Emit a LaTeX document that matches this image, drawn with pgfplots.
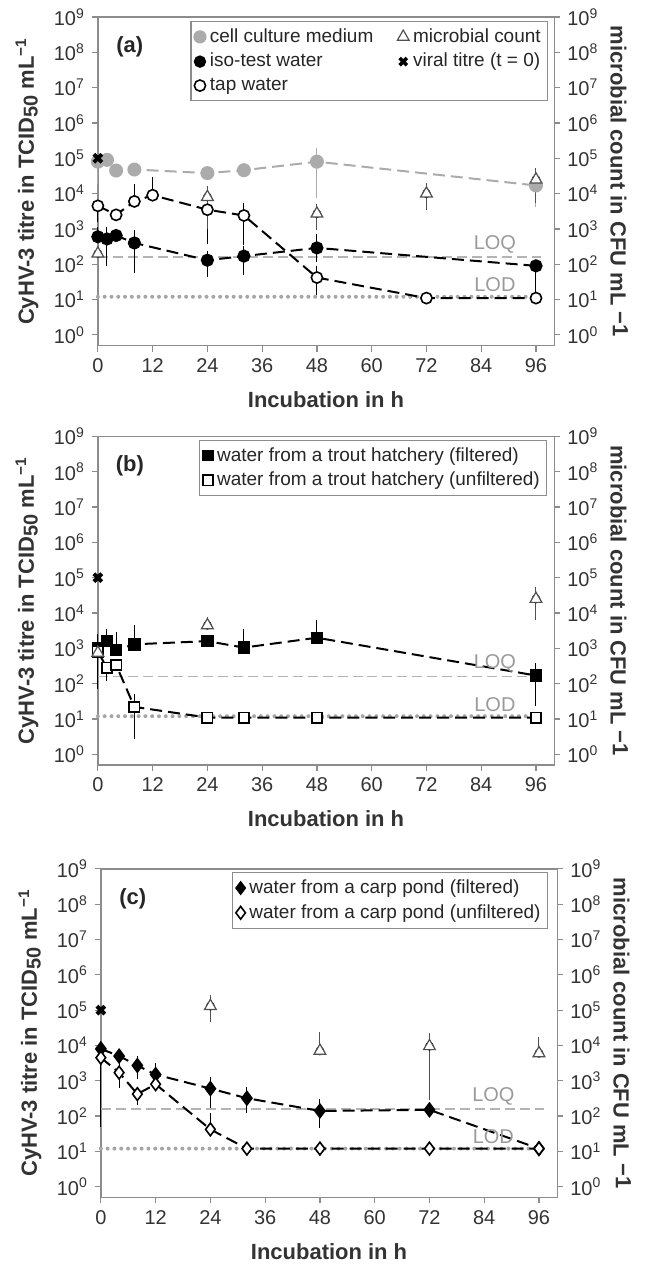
\documentclass[border=0pt]{standalone}
\usepackage{fontspec}
\setmainfont{Liberation Sans}
\usepackage{pgfplots}
\usepackage{pgfplotstable}
\pgfplotsset{compat=1.18}

\definecolor{axgray}{HTML}{8C8C8C}
\definecolor{ccm}{HTML}{ABABAB}
\definecolor{limgray}{HTML}{B4B4B4}
\definecolor{dotgray}{HTML}{A6A6A6}
\definecolor{txtgray}{HTML}{9A9A9A}
\definecolor{trigray}{HTML}{505050}

% t = hours, y = value, ep/em = error up/down
\pgfplotstableread{
t y ep em
0 80000 0 55000
2 90000 0 0
4 45000 0 0
8 48000 0 0
24 38000 0 0
32 46000 0 0
48 80000 70000 70500
96 17000 0 11500
}\ccmtab
\pgfplotstableread{
t y ep em
0 600 300 0
2 520 380 405
4 650 0 0
8 400 300 325
24 130 50 75
32 170 80 105
48 290 260 140
96 90 0 79
}\isotab
\pgfplotstableread{
t y ep em
0 4500 0 2500
4 2500 0 0
8 6000 8000 0
12 9000 14000 0
24 3500 0 3000
32 2400 1800 1950
48 42 28 25
72 11 0 0
96 11 0 0
}\taptab
\pgfplotstableread{
t y ep em
0 200 0 0
24 8000 5000 6700
48 2700 1300 1500
72 10000 5500 5500
96 25000 17000 18000
}\triA
\pgfplotstableread{
t y ep em
0 1000 1000 900
2 1600 1200 0
4 900 1400 0
8 1300 2200 0
24 1600 0 0
32 1050 1750 0
48 2000 3000 0
96 170 130 140
}\fsqtab
\pgfplotstableread{
t y ep em
0 800 0 710
2 280 0 130
4 340 0 0
8 22 18 18.5
24 11 0 0
32 11 0 0
48 11 0 0
96 11 0 0
}\osqtab
\pgfplotstableread{
t y ep em
0 750 0 0
24 4500 1500 0
96 25000 17000 17000
}\triB
\pgfplotstableread{
t y ep em
0 8000 2000 0
4 5000 0 1500
8 2700 1100 1200
12 1500 900 0
24 600 400 380
32 320 180 160
48 140 90 80
72 150 0 0
96 12 0 0
}\fditab
\pgfplotstableread{
t y ep em
0 4500 0 4435
4 1700 800 900
8 420 0 160
12 800 0 0
24 42 53 0
32 12 0 0
48 12 0 0
72 12 0 0
96 12 0 0
}\oditab
\pgfplotstableread{
t y ep em
24 130000 70000 70000
48 7000 11000 0
72 9500 7500 9130
96 6000 7000 0
}\triC

\newcommand\yticks{10\textsuperscript{0},10\textsuperscript{1},10\textsuperscript{2},10\textsuperscript{3},10\textsuperscript{4},10\textsuperscript{5},10\textsuperscript{6},10\textsuperscript{7},10\textsuperscript{8},10\textsuperscript{9}}
\newcommand\lefty{CyHV-3 titre in TCID{\fontsize{10}{12}\selectfont\raisebox{-0.35ex}{50}} mL\textsuperscript{−1}}
\newcommand\righty{microbial count in CFU mL~\raisebox{0.2ex}{−1}}
\newcommand\lblfont{\fontsize{11}{13}\selectfont\bfseries}

\pgfplotsset{
  scale only axis, width=228.5pt, height=164.5pt,
  xmin=0, xmax=100, ymin=0.5, ymax=1e9,
  yminorticks=false, tick align=outside, major tick length=3pt,
  axis line style={axgray, line width=0.7pt}, tick style={axgray, line width=0.6pt},
  tick label style={font=\fontsize{10}{12}\selectfont, text=black!80},
  ebar/.style={only marks, mark=none, forget plot,
    error bars/y dir=both, error bars/y explicit,
    error bars/error bar style={#1, line width=0.5pt},
    error bars/error mark options={#1, mark size=2pt, line width=0.5pt}},
  dline/.style={line width=1pt, dash pattern=on 6pt off 3pt, forget plot},
  loq/.style={limgray, line width=0.8pt, dash pattern=on 5pt off 2.5pt, forget plot},
  lod/.style={dotgray, line width=2pt, line cap=round, dash pattern=on 0pt off 3.4pt, forget plot},
  xmk/.style={only marks, mark=x, mark size=2.8pt, line width=2pt, black, forget plot},
  trimk/.style={only marks, mark=triangle*, mark size=3.4pt, mark options={fill=white, draw=trigray, line width=0.6pt}, forget plot},
}

\begin{document}
\begin{tikzpicture}
\path (-49pt,8.5pt) rectangle (280.5pt,-624.5pt);

% ---------------- (a)
\begin{axis}[anchor=north west, at={(0pt,0pt)}, ymode=log,
  ytick={1,10,100,1000,1e4,1e5,1e6,1e7,1e8,1e9}, yticklabels/.expand once=\yticks,
  xtick={0,12,...,96}, xtick pos=bottom, ytick pos=left,
  xticklabel={\pgfmathprintnumber[assume math mode=true]{\tick}},
  clip=false,
  xlabel={Incubation in h}, ylabel={\lefty},
  x label style={at={(rel axis cs:0.5,0)}, yshift=-27pt, anchor=center, font=\lblfont, text=black!80},
  y label style={at={(rel axis cs:0,0.5)}, yshift=35.5pt, anchor=center, font=\lblfont, text=black!80},
  legend cell align=left, legend columns=2,
  legend style={draw=axgray, line width=0.6pt, font=\fontsize{9.5}{11}\selectfont, text=black!85,
    inner sep=1.5pt, at={(rel axis cs:0.987,0.988)}, anchor=north east,
    /tikz/every even column/.append style={column sep=10pt}},
]
\addplot[loq] coordinates {(0,160) (97,160)};
\addplot[lod] coordinates {(0,12) (97,12)};
\addplot[ebar=ccm] table[x=t, y=y, y error plus=ep, y error minus=em] {\ccmtab};
\addplot[ebar=black] table[x=t, y=y, y error plus=ep, y error minus=em] {\isotab};
\addplot[ebar=black] table[x=t, y=y, y error plus=ep, y error minus=em] {\taptab};
\addplot[ebar=trigray] table[x=t, y=y, y error plus=ep, y error minus=em] {\triA};
\addplot[dline, ccm, mark=*, mark size=3pt, mark options={solid, fill=ccm, draw=ccm}] table[x=t, y=y] {\ccmtab};
\addplot[dline, black, mark=*, mark size=2.8pt, mark options={solid, fill=black}] table[x=t, y=y] {\isotab};
\addplot[dline, black, mark=*, mark size=2.8pt, mark options={solid, fill=white, draw=black, line width=0.8pt}] table[x=t, y=y] {\taptab};
\addplot[trimk] table[x=t, y=y] {\triA};
\addplot[xmk] coordinates {(0,1e5)};
\node[text=txtgray, font=\fontsize{10}{12}\selectfont, anchor=south, inner sep=1.5pt] at (axis cs:87,165) {LOQ};
\node[text=txtgray, font=\fontsize{10}{12}\selectfont, anchor=south, inner sep=1.5pt] at (axis cs:87,13) {LOD};
\node[font=\lblfont, text=black!85] at (rel axis cs:0.07,0.91) {(a)};
\addlegendimage{only marks, mark=*, mark size=3pt, ccm}
\addlegendentry{cell culture medium}
\addlegendimage{only marks, mark=triangle, mark size=3.4pt, trigray, line width=0.6pt}
\addlegendentry{microbial count}
\addlegendimage{only marks, mark=*, mark size=2.8pt, black}
\addlegendentry{iso-test water}
\addlegendimage{only marks, mark=x, mark size=2.6pt, line width=1.8pt, black}
\addlegendentry{viral titre (t = 0)}
\addlegendimage{only marks, mark=o, mark size=2.8pt, black, line width=0.8pt}
\addlegendentry{tap water}
\end{axis}
\begin{axis}[anchor=north west, at={(0pt,0pt)}, ymode=log,
  ytick={1,10,100,1000,1e4,1e5,1e6,1e7,1e8,1e9}, yticklabels/.expand once=\yticks,
  hide x axis, axis y line*=right, ylabel={\righty},
  y label style={at={(rel axis cs:1,0.5)}, rotate=180, yshift=32.5pt, anchor=center, font=\lblfont, text=black!80},
]
\addplot[draw=none, forget plot] coordinates {(0,1)};
\end{axis}

% ---------------- (b)
\begin{axis}[anchor=north west, at={(0pt,-210pt)}, ymode=log,
  ytick={1,10,100,1000,1e4,1e5,1e6,1e7,1e8,1e9}, yticklabels/.expand once=\yticks,
  xtick={0,12,...,96}, xtick pos=bottom, ytick pos=left,
  xticklabel={\pgfmathprintnumber[assume math mode=true]{\tick}},
  clip=false,
  xlabel={Incubation in h}, ylabel={\lefty},
  x label style={at={(rel axis cs:0.5,0)}, yshift=-27pt, anchor=center, font=\lblfont, text=black!80},
  y label style={at={(rel axis cs:0,0.5)}, yshift=35.5pt, anchor=center, font=\lblfont, text=black!80},
  legend cell align=left,
  legend style={draw=axgray, line width=0.6pt, font=\fontsize{9.5}{11}\selectfont, text=black!85,
    inner sep=1.5pt, at={(rel axis cs:0.985,0.99)}, anchor=north east},
]
\addplot[loq] coordinates {(0,160) (97,160)};
\addplot[lod] coordinates {(0,12) (97,12)};
\addplot[ebar=black] table[x=t, y=y, y error plus=ep, y error minus=em] {\fsqtab};
\addplot[ebar=black] table[x=t, y=y, y error plus=ep, y error minus=em] {\osqtab};
\addplot[ebar=trigray] table[x=t, y=y, y error plus=ep, y error minus=em] {\triB};
\addplot[dline, black, mark=square*, mark size=2.6pt, mark options={solid, fill=black}] table[x=t, y=y] {\fsqtab};
\addplot[dline, black, mark=square*, mark size=2.6pt, mark options={solid, fill=white, draw=black, line width=0.8pt}] table[x=t, y=y] {\osqtab};
\addplot[trimk] table[x=t, y=y] {\triB};
\addplot[xmk] coordinates {(0,1e5)};
\node[text=txtgray, font=\fontsize{10}{12}\selectfont, anchor=south, inner sep=1.5pt] at (axis cs:87,165) {LOQ};
\node[text=txtgray, font=\fontsize{10}{12}\selectfont, anchor=south, inner sep=1.5pt] at (axis cs:87,13) {LOD};
\node[font=\lblfont, text=black!85] at (rel axis cs:0.07,0.91) {(b)};
\addlegendimage{only marks, mark=square*, mark size=2.6pt, black}
\addlegendentry{water from a trout hatchery (filtered)}
\addlegendimage{only marks, mark=square, mark size=2.6pt, black, line width=0.8pt}
\addlegendentry{water from a trout hatchery (unfiltered)}
\end{axis}
\begin{axis}[anchor=north west, at={(0pt,-210pt)}, ymode=log,
  ytick={1,10,100,1000,1e4,1e5,1e6,1e7,1e8,1e9}, yticklabels/.expand once=\yticks,
  hide x axis, axis y line*=right, ylabel={\righty},
  y label style={at={(rel axis cs:1,0.5)}, rotate=180, yshift=32.5pt, anchor=center, font=\lblfont, text=black!80},
]
\addplot[draw=none, forget plot] coordinates {(0,1)};
\end{axis}

% ---------------- (c)
\begin{axis}[anchor=north west, at={(1.5pt,-426.5pt)}, ymode=log,
  ytick={1,10,100,1000,1e4,1e5,1e6,1e7,1e8,1e9}, yticklabels/.expand once=\yticks,
  xtick={0,12,...,96}, xtick pos=bottom, ytick pos=left,
  xticklabel={\pgfmathprintnumber[assume math mode=true]{\tick}},
  clip=false,
  xlabel={Incubation in h}, ylabel={\lefty},
  x label style={at={(rel axis cs:0.5,0)}, yshift=-27pt, anchor=center, font=\lblfont, text=black!80},
  y label style={at={(rel axis cs:0,0.5)}, yshift=35.5pt, anchor=center, font=\lblfont, text=black!80},
  legend cell align=left,
  legend style={draw=axgray, line width=0.6pt, font=\fontsize{9.5}{11}\selectfont, text=black!85,
    inner sep=1.5pt, at={(rel axis cs:0.98,0.99)}, anchor=north east},
]
\addplot[loq] coordinates {(0,160) (97,160)};
\addplot[lod] coordinates {(0,12) (97,12)};
\addplot[ebar=black] table[x=t, y=y, y error plus=ep, y error minus=em] {\fditab};
\addplot[ebar=black] table[x=t, y=y, y error plus=ep, y error minus=em] {\oditab};
\addplot[ebar=trigray] table[x=t, y=y, y error plus=ep, y error minus=em] {\triC};
\addplot[dline, black, mark=diamond*, mark size=3.2pt, mark options={solid, fill=black}] table[x=t, y=y] {\fditab};
\addplot[dline, black, mark=diamond*, mark size=3.2pt, mark options={solid, fill=white, draw=black, line width=0.8pt}] table[x=t, y=y] {\oditab};
\addplot[trimk] table[x=t, y=y] {\triC};
\addplot[xmk] coordinates {(0,1e5)};
\node[text=txtgray, font=\fontsize{10}{12}\selectfont, anchor=south, inner sep=1.5pt] at (axis cs:86,165) {LOQ};
\node[text=txtgray, font=\fontsize{10}{12}\selectfont, anchor=south, inner sep=1.5pt] at (axis cs:86,13) {LOD};
\node[font=\lblfont, text=black!85] at (rel axis cs:0.07,0.91) {(c)};
\addlegendimage{only marks, mark=diamond*, mark size=3.2pt, black}
\addlegendentry{water from a carp pond (filtered)}
\addlegendimage{only marks, mark=diamond, mark size=3.2pt, black, line width=0.8pt}
\addlegendentry{water from a carp pond (unfiltered)}
\end{axis}
\begin{axis}[anchor=north west, at={(1.5pt,-426.5pt)}, ymode=log,
  ytick={1,10,100,1000,1e4,1e5,1e6,1e7,1e8,1e9}, yticklabels/.expand once=\yticks,
  hide x axis, axis y line*=right, ylabel={\righty},
  y label style={at={(rel axis cs:1,0.5)}, rotate=180, yshift=32.5pt, anchor=center, font=\lblfont, text=black!80},
]
\addplot[draw=none, forget plot] coordinates {(0,1)};
\end{axis}
\end{tikzpicture}
\end{document}
